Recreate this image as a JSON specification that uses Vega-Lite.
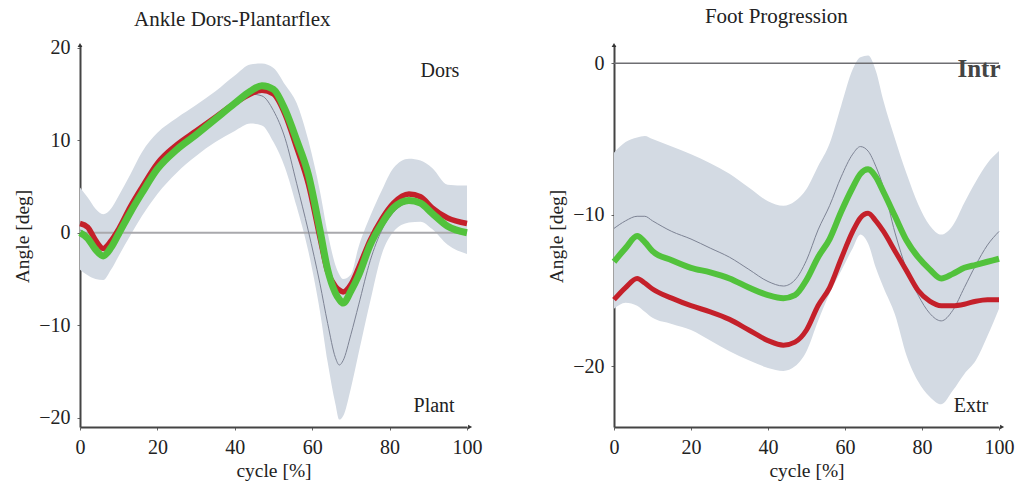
{
"$schema": "https://vega.github.io/schema/vega-lite/v6.json",
"padding": {"left": 12, "top": 5, "right": 5, "bottom": 5},
"background": "white",
"spacing": 64,
"config": {
 "font": "Liberation Serif",
 "view": {"stroke": null},
 "axis": {"grid": false, "labelFlush": false, "domainColor": "#444", "domainWidth": 2, "tickColor": "#666", "tickSize": 3, "labelFont": "Liberation Serif", "labelFontSize": 20, "labelColor": "#222", "titleFont": "Liberation Serif", "titleFontSize": 19.5, "titleFontWeight": "normal", "titleColor": "#222"},
 "axisX": {"labelPadding": 7, "titlePadding": 4},
 "axisY": {"labelPadding": 7, "titlePadding": 6},
 "title": {"font": "Liberation Serif", "fontSize": 21, "fontWeight": "normal", "color": "#222", "frame": "bounds", "anchor": "middle", "offset": 12}
},
"datasets": {
 "ankle": [
  {"x": 0, "lo": -4.0, "hi": 4.9, "mean": 0.3, "red": 1.0, "green": 0.0},
  {"x": 2, "lo": -4.6, "hi": 3.8, "mean": -0.2, "red": 0.6, "green": -0.6},
  {"x": 4, "lo": -5.0, "hi": 2.6, "mean": -1.2, "red": -0.8, "green": -1.8},
  {"x": 6, "lo": -5.1, "hi": 2.0, "mean": -1.8, "red": -1.7, "green": -2.5},
  {"x": 8, "lo": -4.0, "hi": 2.6, "mean": -1.1, "red": -0.9, "green": -1.6},
  {"x": 10, "lo": -2.5, "hi": 4.0, "mean": 0.2, "red": 0.4, "green": -0.1},
  {"x": 13, "lo": -0.3, "hi": 6.3, "mean": 2.4, "red": 2.8, "green": 2.2},
  {"x": 16, "lo": 1.8, "hi": 8.7, "mean": 4.5, "red": 4.9, "green": 4.3},
  {"x": 20, "lo": 4.2, "hi": 10.8, "mean": 7.0, "red": 7.5, "green": 6.9},
  {"x": 25, "lo": 6.5, "hi": 12.4, "mean": 9.0, "red": 9.5, "green": 9.0},
  {"x": 30, "lo": 8.3, "hi": 13.8, "mean": 10.8, "red": 11.0, "green": 10.6},
  {"x": 35, "lo": 9.8, "hi": 15.3, "mean": 12.4, "red": 12.5, "green": 12.3},
  {"x": 40, "lo": 11.0, "hi": 17.0, "mean": 14.0, "red": 14.0, "green": 14.0},
  {"x": 44, "lo": 11.8, "hi": 18.2, "mean": 15.0, "red": 15.0, "green": 15.3},
  {"x": 47, "lo": 11.6, "hi": 18.3, "mean": 14.8, "red": 15.4, "green": 15.9},
  {"x": 50, "lo": 9.8, "hi": 17.8, "mean": 13.2, "red": 15.0, "green": 15.5},
  {"x": 53, "lo": 7.0, "hi": 16.0, "mean": 10.2, "red": 12.8, "green": 13.3},
  {"x": 56, "lo": 2.8, "hi": 14.0, "mean": 5.3, "red": 9.2, "green": 10.0},
  {"x": 59, "lo": -2.0, "hi": 10.0, "mean": 0.2, "red": 5.3, "green": 6.3},
  {"x": 62, "lo": -8.5, "hi": 4.5, "mean": -5.5, "red": -0.5, "green": 0.3},
  {"x": 64, "lo": -14.0, "hi": 0.0, "mean": -9.8, "red": -4.2, "green": -4.0},
  {"x": 66, "lo": -18.5, "hi": -3.5, "mean": -13.5, "red": -5.8, "green": -6.5},
  {"x": 67, "lo": -20.2, "hi": -4.5, "mean": -14.3, "red": -6.2, "green": -7.2},
  {"x": 68, "lo": -19.8, "hi": -5.0, "mean": -13.8, "red": -6.4, "green": -7.6},
  {"x": 70, "lo": -16.8, "hi": -4.5, "mean": -11.0, "red": -5.6, "green": -6.3},
  {"x": 72, "lo": -13.0, "hi": -1.5, "mean": -7.8, "red": -3.8, "green": -4.6},
  {"x": 75, "lo": -7.4, "hi": 1.8, "mean": -3.0, "red": -0.8, "green": -1.3},
  {"x": 78, "lo": -2.3, "hi": 4.6, "mean": 0.3, "red": 1.5, "green": 1.0},
  {"x": 81, "lo": 0.1, "hi": 7.0, "mean": 2.2, "red": 3.2, "green": 2.7},
  {"x": 85, "lo": 1.1, "hi": 8.0, "mean": 3.2, "red": 4.2, "green": 3.5},
  {"x": 88, "lo": 1.2, "hi": 7.8, "mean": 3.0, "red": 3.9, "green": 3.2},
  {"x": 91, "lo": 0.4, "hi": 7.0, "mean": 2.0, "red": 2.7, "green": 2.1},
  {"x": 95, "lo": -1.3, "hi": 5.2, "mean": 0.6, "red": 1.6, "green": 0.7},
  {"x": 100, "lo": -2.3, "hi": 5.1, "mean": 0.1, "red": 1.0, "green": 0.0}
 ],
 "foot": [
  {"x": 0, "lo": -16.2, "hi": -5.9, "mean": -10.9, "red": -15.6, "green": -13.1},
  {"x": 3, "lo": -15.8, "hi": -5.2, "mean": -10.4, "red": -14.8, "green": -12.2},
  {"x": 6, "lo": -16.0, "hi": -4.9, "mean": -10.1, "red": -14.2, "green": -11.4},
  {"x": 8, "lo": -16.4, "hi": -4.8, "mean": -10.1, "red": -14.5, "green": -11.8},
  {"x": 10, "lo": -16.8, "hi": -5.0, "mean": -10.4, "red": -14.9, "green": -12.4},
  {"x": 15, "lo": -17.2, "hi": -5.5, "mean": -11.1, "red": -15.5, "green": -13.0},
  {"x": 20, "lo": -17.6, "hi": -6.0, "mean": -11.6, "red": -16.0, "green": -13.5},
  {"x": 25, "lo": -18.3, "hi": -6.6, "mean": -12.2, "red": -16.4, "green": -13.8},
  {"x": 30, "lo": -19.0, "hi": -7.3, "mean": -12.8, "red": -16.9, "green": -14.2},
  {"x": 35, "lo": -19.6, "hi": -8.2, "mean": -13.6, "red": -17.6, "green": -14.8},
  {"x": 40, "lo": -20.1, "hi": -9.1, "mean": -14.4, "red": -18.3, "green": -15.3},
  {"x": 44, "lo": -20.3, "hi": -9.4, "mean": -14.7, "red": -18.6, "green": -15.5},
  {"x": 47, "lo": -20.0, "hi": -9.1, "mean": -14.3, "red": -18.4, "green": -15.3},
  {"x": 50, "lo": -19.0, "hi": -8.3, "mean": -13.0, "red": -17.6, "green": -14.3},
  {"x": 53, "lo": -17.0, "hi": -6.8, "mean": -11.0, "red": -16.0, "green": -12.8},
  {"x": 56, "lo": -15.2, "hi": -5.3, "mean": -9.4, "red": -14.8, "green": -11.6},
  {"x": 59, "lo": -13.7, "hi": -2.8, "mean": -7.5, "red": -12.9, "green": -9.8},
  {"x": 62, "lo": -12.2, "hi": -0.4, "mean": -6.0, "red": -11.1, "green": -8.2},
  {"x": 64, "lo": -11.3, "hi": 0.4, "mean": -5.5, "red": -10.2, "green": -7.3},
  {"x": 66, "lo": -11.9, "hi": 0.5, "mean": -5.8, "red": -9.9, "green": -7.0},
  {"x": 68, "lo": -13.5, "hi": -0.5, "mean": -6.8, "red": -10.4, "green": -7.5},
  {"x": 70, "lo": -14.8, "hi": -2.5, "mean": -8.2, "red": -11.1, "green": -8.5},
  {"x": 73, "lo": -16.6, "hi": -5.0, "mean": -11.2, "red": -12.4, "green": -10.1},
  {"x": 76, "lo": -19.3, "hi": -7.3, "mean": -13.6, "red": -13.7, "green": -11.7},
  {"x": 79, "lo": -21.0, "hi": -9.3, "mean": -15.3, "red": -15.0, "green": -12.8},
  {"x": 82, "lo": -22.0, "hi": -10.7, "mean": -16.5, "red": -15.7, "green": -13.6},
  {"x": 85, "lo": -22.5, "hi": -11.3, "mean": -17.0, "red": -16.0, "green": -14.2},
  {"x": 88, "lo": -21.6, "hi": -10.7, "mean": -16.3, "red": -16.0, "green": -13.9},
  {"x": 91, "lo": -20.5, "hi": -9.2, "mean": -14.8, "red": -15.9, "green": -13.5},
  {"x": 94, "lo": -19.6, "hi": -7.8, "mean": -13.3, "red": -15.7, "green": -13.3},
  {"x": 97, "lo": -18.0, "hi": -6.6, "mean": -12.0, "red": -15.6, "green": -13.1},
  {"x": 100, "lo": -16.2, "hi": -5.8, "mean": -11.1, "red": -15.6, "green": -12.9}
 ]
},
"hconcat": [
 {
  "title": {"text": "Ankle Dors-Plantarflex", "dx": -15, "offset": 8},
  "width": 387,
  "height": 382,
  "layer": [
   {"data": {"name": "ankle"}, "mark": {"type": "area", "color": "#d3dae3", "interpolate": "monotone"},
    "encoding": {
     "x": {"field": "x", "type": "quantitative", "scale": {"domain": [0, 100], "nice": false}, "axis": {"values": [0, 20, 40, 60, 80, 100], "title": "cycle [%]"}},
     "y": {"field": "lo", "type": "quantitative", "scale": {"domain": [-21, 20.3], "nice": false, "zero": false}, "axis": {"values": [-20, -10, 0, 10, 20], "title": "Angle [deg]"}}, "y2": {"field": "hi"}}},
   {"data": {"values": [{}]}, "mark": {"type": "rule", "color": "#a9a9ad", "strokeWidth": 2}, "encoding": {"y": {"datum": 0}}},
   {"data": {"name": "ankle"}, "mark": {"type": "line", "color": "#7d8394", "strokeWidth": 1, "interpolate": "monotone"}, "encoding": {"x": {"field": "x", "type": "quantitative"}, "y": {"field": "mean", "type": "quantitative"}}},
   {"data": {"name": "ankle"}, "mark": {"type": "line", "color": "#c4202a", "strokeWidth": 5.5, "interpolate": "monotone"}, "encoding": {"x": {"field": "x", "type": "quantitative"}, "y": {"field": "red", "type": "quantitative"}}},
   {"data": {"name": "ankle"}, "mark": {"type": "line", "color": "#52c23c", "strokeWidth": 7, "interpolate": "monotone"}, "encoding": {"x": {"field": "x", "type": "quantitative"}, "y": {"field": "green", "type": "quantitative"}}},
   {"data": {"values": [{}]}, "mark": {"type": "text", "text": "Dors", "fontSize": 20, "color": "#222"}, "encoding": {"x": {"datum": 93}, "y": {"datum": 17.5}}},
   {"data": {"values": [{}]}, "mark": {"type": "text", "text": "Plant", "fontSize": 20, "color": "#222"}, "encoding": {"x": {"datum": 91.5}, "y": {"datum": -18.7}}},
   {"data": {"values": [{}]}, "mark": {"type": "point", "shape": "triangle-up", "filled": true, "size": 22, "color": "#333", "opacity": 1}, "encoding": {"x": {"datum": 0}, "y": {"datum": 20.3}}},
   {"data": {"values": [{}]}, "mark": {"type": "point", "shape": "triangle-right", "filled": true, "size": 22, "color": "#333", "opacity": 1, "clip": false}, "encoding": {"x": {"datum": 100.8}, "y": {"datum": -21}}}
  ]
 },
 {
  "title": {"text": "Foot Progression", "dx": -4, "offset": 16},
  "width": 385,
  "height": 382,
  "layer": [
   {"data": {"name": "foot"}, "mark": {"type": "area", "color": "#d3dae3", "interpolate": "monotone"},
    "encoding": {
     "x": {"field": "x", "type": "quantitative", "scale": {"domain": [0, 100], "nice": false}, "axis": {"values": [0, 20, 40, 60, 80, 100], "title": "cycle [%]"}},
     "y": {"field": "lo", "type": "quantitative", "scale": {"domain": [-24, 1.2], "nice": false, "zero": false}, "axis": {"values": [-20, -10, 0], "title": "Angle [deg]"}}, "y2": {"field": "hi"}}},
   {"data": {"values": [{}]}, "mark": {"type": "rule", "color": "#6e6e72", "strokeWidth": 1.5}, "encoding": {"y": {"datum": 0}}},
   {"data": {"name": "foot"}, "mark": {"type": "line", "color": "#7d8394", "strokeWidth": 1, "interpolate": "monotone"}, "encoding": {"x": {"field": "x", "type": "quantitative"}, "y": {"field": "mean", "type": "quantitative"}}},
   {"data": {"name": "foot"}, "mark": {"type": "line", "color": "#c4202a", "strokeWidth": 5, "interpolate": "monotone"}, "encoding": {"x": {"field": "x", "type": "quantitative"}, "y": {"field": "red", "type": "quantitative"}}},
   {"data": {"name": "foot"}, "mark": {"type": "line", "color": "#52c23c", "strokeWidth": 6, "interpolate": "monotone"}, "encoding": {"x": {"field": "x", "type": "quantitative"}, "y": {"field": "green", "type": "quantitative"}}},
   {"data": {"values": [{}]}, "mark": {"type": "text", "text": "Intr", "fontSize": 25, "fontWeight": "bold", "color": "#444"}, "encoding": {"x": {"datum": 94.8}, "y": {"datum": -0.4}}},
   {"data": {"values": [{}]}, "mark": {"type": "text", "text": "Extr", "fontSize": 20, "color": "#222"}, "encoding": {"x": {"datum": 92.7}, "y": {"datum": -22.6}}},
   {"data": {"values": [{}]}, "mark": {"type": "point", "shape": "triangle-up", "filled": true, "size": 22, "color": "#333", "opacity": 1}, "encoding": {"x": {"datum": 0}, "y": {"datum": 1.2}}},
   {"data": {"values": [{}]}, "mark": {"type": "point", "shape": "triangle-right", "filled": true, "size": 22, "color": "#333", "opacity": 1, "clip": false}, "encoding": {"x": {"datum": 100.8}, "y": {"datum": -24}}}
  ]
 }
]
}
